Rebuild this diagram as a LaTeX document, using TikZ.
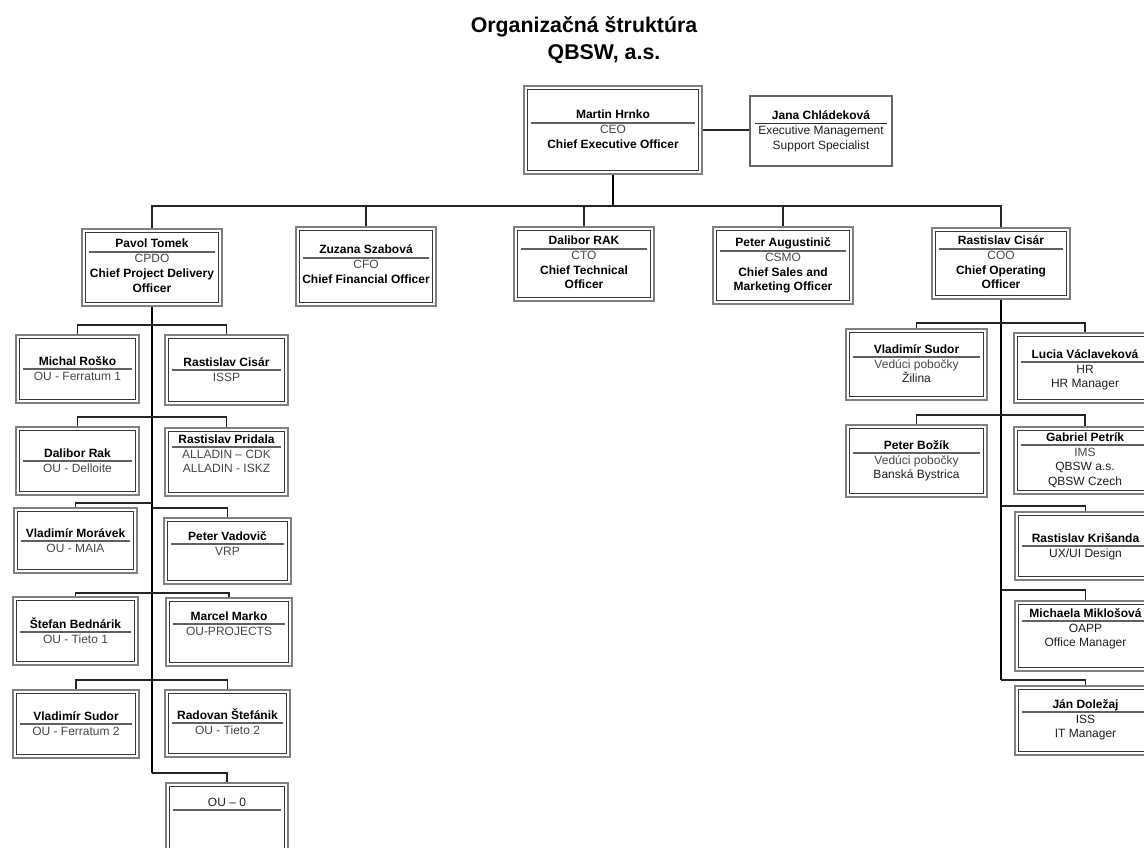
\documentclass[tikz,border=0pt]{standalone}
\usepackage{fontspec}
\setmainfont{Liberation Sans}
\usetikzlibrary{fit}
\newcommand\grtxt{\color{black!72}}
\newcommand\dktxt{\color{black!88}}
\newcommand\obox[8]{%
  \node[outerbox, fit={(#2,#3) (#4,#5)}] (#1) {};
  \draw[innerframe] ([shift={(4,4)}]#1.north west) rectangle ([shift={(-4,-4)}]#1.south east);
  \draw[divider] ({#2+7},#6) -- ({#4-7},#6);
  \node[txt, font=\fontsize{9}{11}\selectfont\bfseries] (#1-n) at ({(#2+#4)/2},{#6-4}) {#7};
  \foreach \t [count=\i] in {#8} {\node[txt] (#1-\i) at ({(#2+#4)/2},{#6-3.5+14.5*\i}) {\t};}
}
\tikzset{
  outerbox/.style={draw=black!50, line width=1.2pt, inner sep=0pt},
  innerframe/.style={draw=black!78, line width=0.75pt},
  divider/.style={draw=black!62, line width=1.1pt},
  txt/.style={anchor=base, inner sep=0pt, font=\fontsize{9}{11}\selectfont},
  link/.style={draw=black!85, line width=1pt},
  spine/.style={draw=black, line width=1.6pt},
  titletxt/.style={anchor=base, inner sep=0pt, font=\fontsize{16}{19}\selectfont\bfseries},
}
\begin{document}
\begin{tikzpicture}[x=0.75pt, y=-0.75pt]
\useasboundingbox (0,0) rectangle (1144,848);
\clip (0,0) rectangle (1144,848);
% title
\node[titletxt] (t1) at (584,33) {Organizačná štruktúra};
\node[titletxt] (t2) at (604,60) {QBSW, a.s.};
% top
\obox{ceo}{524}{86}{702}{174}{123}{Martin Hrnko}{{\grtxt CEO},{\bfseries Chief Executive Officer}}
\node[draw=black!60, line width=1pt, inner sep=0pt, fit={(750,96) (892,166)}] (jana) {};
\draw[draw=black!80, line width=1pt] (755,123.5) -- (887,123.5);
\node[txt, font=\fontsize{9}{11}\selectfont\bfseries] (jana-n) at (821,119.5) {Jana Chládeková};
\node[txt] (jana-1) at (821,135) {\dktxt Executive Management};
\node[txt] (jana-2) at (821,149.5) {\dktxt Support Specialist};
% level 2
\obox{pavol}{82}{229}{222}{306}{252}{Pavol Tomek}{{\grtxt CPDO},{\bfseries Chief Project Delivery},{\bfseries Officer}}
\obox{zuzana}{296}{227}{436}{306}{258}{Zuzana Szabová}{{\grtxt CFO},{\bfseries Chief Financial Officer}}
\obox{rak}{514}{227}{654}{301}{249}{Dalibor RAK}{{\grtxt CTO},{\bfseries Chief Technical},{\bfseries Officer}}
\obox{aug}{713}{227}{853}{304}{251}{Peter Augustinič}{{\grtxt CSMO},{\bfseries Chief Sales and},{\bfseries Marketing Officer}}
\obox{coo}{932}{228}{1070}{299}{249}{Rastislav Cisár}{{\grtxt COO},{\bfseries Chief Operating},{\bfseries Officer}}
% left tree
\obox{rosko}{16}{335}{139}{403}{369}{Michal Roško}{{\grtxt OU - Ferratum 1}}
\obox{cisar}{165}{335}{288}{405}{370}{Rastislav Cisár}{{\grtxt ISSP}}
\obox{rakd}{16}{427}{139}{495}{461}{Dalibor Rak}{{\grtxt OU - Delloite}}
\obox{pridala}{165}{428}{288}{496}{447}{Rastislav Pridala}{{\grtxt ALLADIN – CDK},{\grtxt ALLADIN - ISKZ}}
\obox{moravek}{14}{508}{137}{573}{541}{Vladimír Morávek}{{\grtxt OU - MAIA}}
\obox{vadovic}{164}{518}{291}{584}{544}{Peter Vadovič}{{\grtxt VRP}}
\obox{bednarik}{13}{597}{138}{665}{632}{Štefan Bednárik}{{\grtxt OU - Tieto 1}}
\obox{marko}{166}{598}{292}{666}{624}{Marcel Marko}{{\grtxt OU-PROJECTS}}
\obox{sudorl}{13}{690}{139}{758}{724}{Vladimír Sudor}{{\grtxt OU - Ferratum 2}}
\obox{stefanik}{165}{690}{290}{757}{723}{Radovan Štefánik}{{\grtxt OU - Tieto 2}}
\obox{ouzero}{166}{783}{288}{880}{810}{\mdseries\dktxt OU – 0}{}
% right tree
\obox{sudorr}{846}{329}{987}{400}{357}{Vladimír Sudor}{{\grtxt Vedúci pobočky},{\dktxt Žilina}}
\obox{lucia}{1014}{333}{1156}{403}{362}{Lucia Václaveková}{{\dktxt HR},{\dktxt HR Manager}}
\obox{bozik}{846}{425}{987}{497}{453}{Peter Božík}{{\grtxt Vedúci pobočky},{\dktxt Banská Bystrica}}
\obox{petrik}{1014}{427}{1156}{494}{445}{Gabriel Petrík}{{\grtxt IMS},{\dktxt QBSW a.s.},{\dktxt QBSW Czech}}
\obox{krisanda}{1015}{512}{1156}{580}{546}{Rastislav Krišanda}{{\dktxt UX/UI Design}}
\obox{miklosova}{1015}{601}{1156}{671}{621}{Michaela Miklošová}{{\dktxt OAPP},{\dktxt Office Manager}}
\obox{dolezaj}{1015}{686}{1156}{755}{712}{Ján Doležaj}{{\dktxt ISS},{\dktxt IT Manager}}
% connectors top
\coordinate (bus) at (613,206);
\draw[spine] (ceo.south) -- (ceo.south |- bus);
\draw[link] (pavol.north) |- (bus) -| (coo.north);
\draw[link] (zuzana.north) -- (zuzana.north |- bus);
\draw[link] (rak.north) -- (rak.north |- bus);
\draw[link] (aug.north) -- (aug.north |- bus);
\draw[link] (ceo.east) -- (ceo.east -| jana.west);
% left tree connectors
\coordinate (lend) at (152,773);
\coordinate (l1) at (152,325);
\coordinate (l2) at (152,417);
\coordinate (l3a) at (152,503);
\coordinate (l3b) at (152,508);
\coordinate (l4) at (152,593);
\coordinate (l5) at (152,680);
\draw[spine] (pavol.south) -- (lend);
\draw[link] (rosko.north) |- (l1) -| (cisar.north);
\draw[link] (rakd.north) |- (l2) -| (pridala.north);
\draw[link] (moravek.north) |- (l3a);
\draw[link] (l3b) -| (vadovic.north);
\draw[link] (bednarik.north) |- (l4) -| (marko.north);
\draw[link] (sudorl.north) |- (l5) -| (stefanik.north);
\draw[link] (lend) -| (ouzero.north);
% right tree connectors
\coordinate (rend) at (1001,680);
\coordinate (r1) at (1001,323);
\coordinate (r2) at (1001,415);
\coordinate (r3) at (1001,506);
\coordinate (r4) at (1001,590);
\draw[spine] (coo.south) -- (rend);
\draw[link] (sudorr.north) |- (r1) -| (lucia.north);
\draw[link] (bozik.north) |- (r2) -| (petrik.north);
\draw[link] (r3) -| (krisanda.north);
\draw[link] (r4) -| (miklosova.north);
\draw[link] (rend) -| (dolezaj.north);
\end{tikzpicture}
\end{document}
